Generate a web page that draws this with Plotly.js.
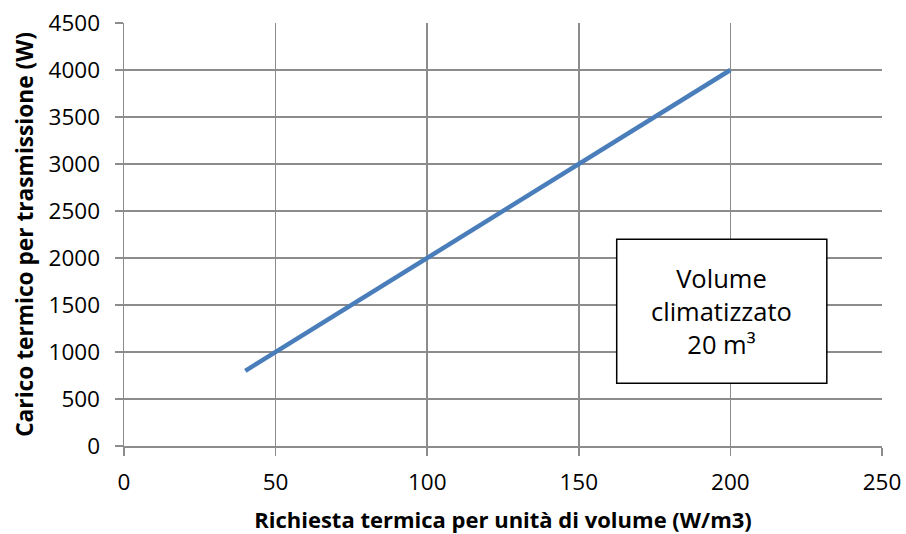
<!DOCTYPE html>
<html><head><meta charset="utf-8">
<script src="https://cdn.plot.ly/plotly-3.0.1.min.js"></script>
<style>body{margin:0;background:#fff}#chart{width:906px;height:534px}</style>
</head><body><div id="chart"></div>
<script>
const richiesta = [40, 50, 100, 150, 200];
const carico = [800, 1000, 2000, 3000, 4000];
const xTicks = [0, 50, 100, 150, 200, 250];
const yTicks = [0, 500, 1000, 1500, 2000, 2500, 3000, 3500, 4000, 4500];
const boxLabel = "Volume<br>climatizzato<br>20 m\u00B3";

const font = "'Open Sans', sans-serif";
const grid = "#8c8c8c";

Plotly.newPlot("chart", [{
  x: richiesta, y: carico, type: "scatter", mode: "lines",
  line: {color: "#4a7ebb", width: 4.5}, hoverinfo: "skip"
}], {
  width: 906, height: 534,
  margin: {l: 124, r: 24, t: 23, b: 88},
  paper_bgcolor: "#fff", plot_bgcolor: "#fff",
  showlegend: false,
  font: {family: font, color: "#000", size: 22},
  xaxis: {
    range: [0, 250], tickvals: xTicks, ticktext: xTicks.map(String),
    showgrid: true, gridcolor: grid, gridwidth: 1.5,
    showline: true, linecolor: grid, linewidth: 1.5, mirror: false,
    ticks: "outside", ticklen: 8, tickcolor: grid, tickwidth: 1.5,
    ticklabelstandoff: 7,
    zeroline: false, tickfont: {size: 22.5, family: font},
    title: {text: "<b>Richiesta termica per unità di volume (W/m3)</b>", font: {size: 22, family: font}, standoff: 18}
  },
  yaxis: {
    range: [0, 4500], tickvals: yTicks, ticktext: yTicks.map(String),
    showgrid: true, gridcolor: grid, gridwidth: 1.5,
    showline: true, linecolor: grid, linewidth: 1.5,
    ticks: "outside", ticklen: 8, tickcolor: grid, tickwidth: 1.5,
    ticklabelstandoff: 10,
    zeroline: false, tickfont: {size: 22.5, family: font},
    title: {text: "<b>Carico termico per trasmissione (W)</b>", font: {size: 22.7, family: font}, standoff: 8}
  },
  shapes: [{
    type: "rect", xref: "x", yref: "y", x0: 162.5, x1: 231.8, y0: 667, y1: 2199,
    line: {color: "#000", width: 1.5}, fillcolor: "#fff", layer: "above"
  }],
  annotations: [{
    xref: "x", yref: "y", x: 197.2, y: 1433, text: boxLabel, showarrow: false,
    font: {size: 25.5, family: font, color: "#000"}, align: "center"
  }]
}, {displayModeBar: false, staticPlot: true});
</script></body></html>
